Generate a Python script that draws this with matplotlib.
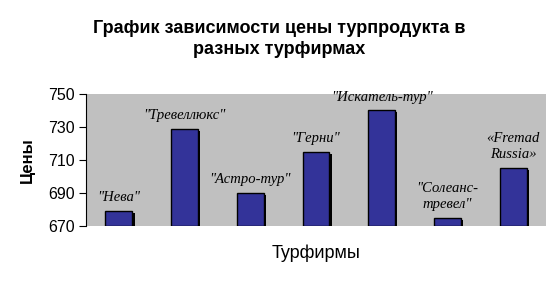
import matplotlib
matplotlib.use("Agg")
import matplotlib.pyplot as plt
import numpy as np

# Données
firms = ['"Нева"', '"Тревеллюкс"', '"Астро-тур"', '"Герни"',
         '"Искатель-тур"', '"Солеанс-\nтревел"', '«Fremad\nRussia»']
prices = [679, 729, 690, 715, 740, 675, 705]

plt.rcParams['font.family'] = ['Liberation Sans', 'DejaVu Sans']

fig = plt.figure(figsize=(5.59, 2.84), dpi=100)
ax = fig.add_axes([86 / 559, 1 - 226 / 284, 460 / 559, 132 / 284])
ax.set_facecolor('#c0c0c0')

x = np.arange(len(firms))
heights = np.array(prices) - 670
# ombre des barres
ax.bar(x + 0.035, heights - 1.2, width=0.41, bottom=670,
       color='black', zorder=2)
ax.bar(x, heights, width=0.41, bottom=670,
       color='#333399', edgecolor='black', linewidth=1, zorder=3)

for xi, p, name in zip(x, prices, firms):
    ax.annotate(name, (xi, p), xytext=(0, 5), textcoords='offset points',
                ha='center', va='bottom', fontsize=10.5, style='italic',
                family='Liberation Serif', linespacing=1.3)

ax.set_xlim(-0.5, len(firms) - 0.5)
ax.set_ylim(670, 750)
ax.set_yticks([670, 690, 710, 730, 750])
ax.set_xticks([])
for s in ['top', 'right', 'bottom']:
    ax.spines[s].set_visible(False)
ax.spines['left'].set_color('black')
ax.tick_params(axis='y', labelsize=11.5, length=5, direction='out', pad=3)

ax.set_ylabel('Цены', fontsize=12, fontweight='bold', labelpad=10)
ax.set_xlabel('Турфирмы', fontsize=13, labelpad=13)
fig.text(0.5, 1 - 39 / 284, 'График зависимости цены турпродукта в\nразных турфирмах',
         ha='center', va='center', fontsize=13, fontweight='bold', linespacing=1.35)

fig.savefig('out.png', dpi=100, facecolor='white')
